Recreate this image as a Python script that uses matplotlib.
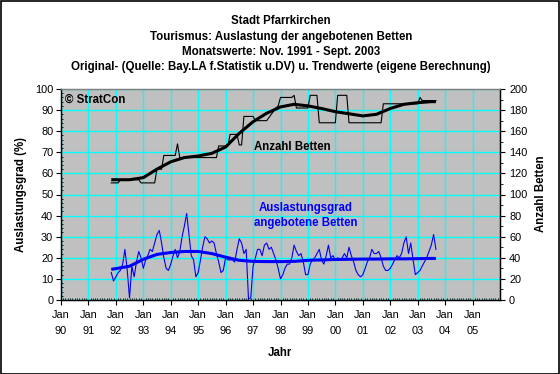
import matplotlib
matplotlib.use('Agg')
import matplotlib.pyplot as plt
import matplotlib.dates as mdates
import pandas as pd
from matplotlib.ticker import MultipleLocator, FixedLocator
from matplotlib.patches import Rectangle

plt.rcParams['font.family'] = ['Liberation Sans', 'DejaVu Sans']

# ---------------- data ----------------
start_month = '1991-11'   # monthly values Nov 1991 - Sep 2003

# Anzahl Betten (right axis), monthly
betten = (
    [111] * 4 + [114] * 9 + [111] * 7 + [124] * 3 + [137] * 6 + [148] +
    [135] * 17 + [146] * 5 + [157] * 4 + [147] * 2 + [174] * 5 + [170] * 6 +
    [173, 176, 179, 182, 184] + [192] * 6 + [194] + [182] * 6 + [194] * 4 +
    [168] * 8 + [194] * 5 + [168] * 15 + [186] * 16 + [192] + [189] * 7
)

# Auslastungsgrad angebotene Betten in % (left axis), monthly
auslastung = [
    13, 9, 11, 13, 14, 17, 24, 14, 1, 16,
    11, 18, 23, 20, 15, 19, 21, 24, 23, 27,
    31, 33, 27, 20, 15, 14, 17, 21, 24, 20,
    23, 30, 35, 41, 31, 21, 19, 11, 13, 19,
    25, 30, 29, 27, 28, 27, 22, 18, 13, 14,
    20, 19, 19, 19, 18, 24, 29, 27, 22, 24,
    0.5, 1, 16, 20, 24, 24, 21, 26, 27, 24,
    25, 22, 19, 15, 10, 12, 15, 17, 17, 20,
    26, 23, 21, 22, 18, 12, 12, 17, 19, 20,
    22, 24, 19, 17, 21, 26, 20, 21, 19, 20,
    19, 20, 22, 20, 25, 21, 18, 14, 12, 11,
    12, 15, 18, 20, 24, 22, 22, 23, 20, 16,
    14, 14, 15, 17, 19, 21, 20, 22, 27, 30,
    22, 27, 19, 12, 13, 14, 16, 18, 20, 23,
    26, 31, 24,
]

# Trend values (eigene Berechnung)
trend_dates = [
    '1991-11-01', '1992-07-01', '1993-01-01', '1993-07-01', '1994-01-01',
    '1994-07-01', '1995-01-01', '1995-07-01', '1996-01-01', '1996-07-01',
    '1997-01-01', '1997-07-01', '1998-01-01', '1998-07-01', '1999-01-01',
    '1999-07-01', '2000-01-01', '2000-07-01', '2001-01-01', '2001-07-01',
    '2002-01-01', '2002-07-01', '2003-01-01', '2003-07-01', '2003-09-01',
]
betten_trend = [
    114, 114, 116, 124, 131, 135, 136.5, 139, 145, 158,
    169, 177, 183, 185.5, 184, 181.5, 178.5, 176.5, 174.5, 176,
    181.5, 185.5, 187, 188, 188,
]
auslastung_trend = [
    14.5, 16.0, 19.3, 21.6, 22.5, 23.0, 23.0, 22.0, 20.3, 18.8,
    18.3, 18.2, 18.2, 18.3, 18.8, 19.0, 19.2, 19.3, 19.4, 19.4,
    19.5, 19.5, 19.6, 19.7, 19.7,
]

tick_years = list(range(1990, 2006))
x_labels = ['Jan\n%02d' % (y % 100) for y in tick_years]

title_lines = [
    'Stadt Pfarrkirchen',
    'Tourismus: Auslastung der angebotenen Betten',
    'Monatswerte: Nov. 1991 - Sept. 2003',
    'Original- (Quelle: Bay.LA f.Statistik u.DV) u. Trendwerte (eigene Berechnung)',
]

# ---------------- figure ----------------
W, H = 560, 374
fig = plt.figure(figsize=(W / 100, H / 100), dpi=100)
fig.patch.set_facecolor('white')
fig.patches.append(Rectangle((0.5 / W, 0.5 / H), 1 - 1.5 / W, 1 - 1.5 / H,
                             transform=fig.transFigure, fill=False,
                             edgecolor='black', linewidth=1.2))

L, R, T, B = 61, 500, 89, 300
ax = fig.add_axes([L / W, 1 - B / H, (R - L) / W, (B - T) / H])
ax.set_facecolor('#C0C0C0')
ax2 = ax.twinx()
ax2.patch.set_visible(False)

months = pd.date_range(start_month, periods=len(betten), freq='MS')
tdates = pd.to_datetime(trend_dates)

blue = '#0000FF'
ax.plot(months, auslastung, color=blue, lw=0.8, zorder=3)
ax.plot(tdates, auslastung_trend, color=blue, lw=2.2, zorder=4,
        solid_joinstyle='round', solid_capstyle='butt')
ax2.plot(months, betten, color='black', lw=0.8, zorder=3)
ax2.plot(tdates, betten_trend, color='black', lw=2.2, zorder=4,
         solid_joinstyle='round', solid_capstyle='butt')

x0 = mdates.date2num(pd.Timestamp('1990-01-01'))
x1 = mdates.date2num(pd.Timestamp('2006-01-01'))
ax.set_xlim(x0, x1)
ax.set_ylim(0, 100)
ax2.set_ylim(0, 200)

tick_pos = [mdates.date2num(pd.Timestamp('%d-01-01' % y)) for y in tick_years]
ax.xaxis.set_major_locator(FixedLocator(tick_pos))
ax.set_xticklabels(x_labels, linespacing=1.75)
ax.xaxis.set_minor_locator(mdates.MonthLocator())
ax.yaxis.set_major_locator(MultipleLocator(10))
ax.yaxis.set_minor_locator(MultipleLocator(2))
ax2.yaxis.set_major_locator(MultipleLocator(20))
ax2.yaxis.set_minor_locator(MultipleLocator(10))

grid_c = '#00FFFF'
ax.grid(True, which='major', color=grid_c, lw=1.0, zorder=1)
ax.set_axisbelow(True)

tick_font = 7.9
ax.tick_params(axis='both', which='major', direction='out', length=3.5,
               width=0.8, labelsize=tick_font, color='black', pad=2)
ax.tick_params(axis='x', which='major', pad=4)
ax.tick_params(axis='both', which='minor', direction='in', length=1.5,
               width=0.6, color='black')
ax2.tick_params(axis='y', which='major', direction='out', length=3.5,
                width=0.8, labelsize=tick_font, pad=3)
ax2.tick_params(axis='y', which='minor', direction='out', length=2,
                width=0.6)

for a in (ax, ax2):
    a.spines['top'].set_color('#808080')
    a.spines['left'].set_color('black')
    a.spines['right'].set_color('black')
    a.spines['bottom'].set_color('black')
    for s in a.spines.values():
        s.set_linewidth(0.9)

bold = dict(fontweight='bold')
lab_font = 8.3
fig.text(21 / W, 1 - 194 / H, 'Auslastungsgrad (%)', rotation=90,
         ha='center', va='center', fontsize=lab_font, **bold)
fig.text(541 / W, 1 - 194 / H, 'Anzahl Betten', rotation=90,
         ha='center', va='center', fontsize=lab_font, **bold)
fig.text(280 / W, 1 - 353 / H, 'Jahr', ha='center', va='center',
         fontsize=lab_font, **bold)

for i, line in enumerate(title_lines):
    fig.text(281 / W, 1 - (21.5 + 15.3 * i) / H, line, ha='center', va='center',
             fontsize=lab_font, **bold)

fig.text(65 / W, 1 - 100 / H, '\u00a9 StratCon', ha='left', va='center',
         fontsize=lab_font, **bold)
fig.text(254 / W, 1 - 147 / H, 'Anzahl Betten', ha='left', va='center',
         fontsize=lab_font, **bold)
fig.text(306 / W, 1 - 207.5 / H, 'Auslastungsgrad', ha='center', va='center',
         fontsize=lab_font, color=blue, **bold)
fig.text(306 / W, 1 - 223.5 / H, 'angebotene Betten', ha='center', va='center',
         fontsize=lab_font, color=blue, **bold)

fig.savefig('out.png', dpi=100)
